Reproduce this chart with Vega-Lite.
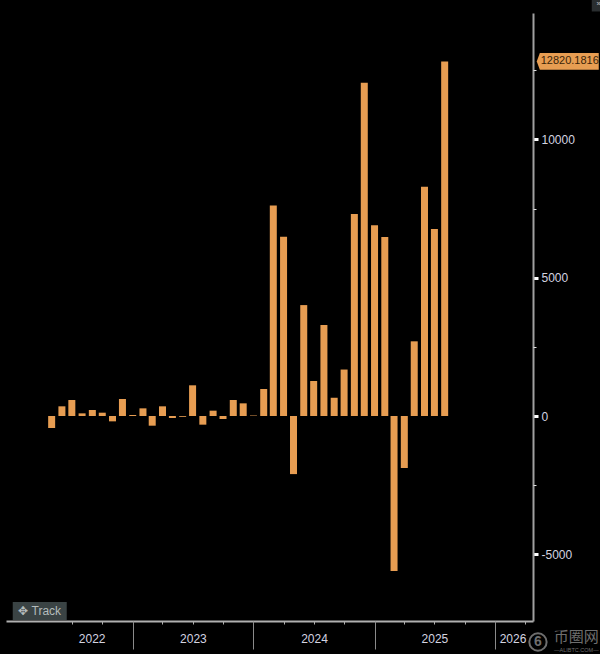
{
  "$schema": "https://vega.github.io/schema/vega-lite/v6.json",
  "width": 527,
  "height": 608,
  "padding": {"left": 6, "top": 13, "right": 67, "bottom": 33},
  "autosize": "none",
  "background": "#000000",
  "view": {"stroke": null},
  "config": {"font": "Liberation Sans"},
  "datasets": {
    "flows": [
      {"month": "2022-05-01", "value": -434},
      {"month": "2022-06-01", "value": 350},
      {"month": "2022-07-01", "value": 578},
      {"month": "2022-08-01", "value": 96},
      {"month": "2022-09-01", "value": 217},
      {"month": "2022-10-01", "value": 120},
      {"month": "2022-11-01", "value": -193},
      {"month": "2022-12-01", "value": 615},
      {"month": "2023-01-01", "value": 36},
      {"month": "2023-02-01", "value": 277},
      {"month": "2023-03-01", "value": -350},
      {"month": "2023-04-01", "value": 350},
      {"month": "2023-05-01", "value": -72},
      {"month": "2023-06-01", "value": -30},
      {"month": "2023-07-01", "value": 1110},
      {"month": "2023-08-01", "value": -313},
      {"month": "2023-09-01", "value": 193},
      {"month": "2023-10-01", "value": -108},
      {"month": "2023-11-01", "value": 578},
      {"month": "2023-12-01", "value": 458},
      {"month": "2024-01-01", "value": 18},
      {"month": "2024-02-01", "value": 976},
      {"month": "2024-03-01", "value": 7610},
      {"month": "2024-04-01", "value": 6480},
      {"month": "2024-05-01", "value": -2100},
      {"month": "2024-06-01", "value": 4010},
      {"month": "2024-07-01", "value": 1265},
      {"month": "2024-08-01", "value": 3290},
      {"month": "2024-09-01", "value": 660},
      {"month": "2024-10-01", "value": 1680},
      {"month": "2024-11-01", "value": 7300},
      {"month": "2024-12-01", "value": 12050},
      {"month": "2025-01-01", "value": 6900},
      {"month": "2025-02-01", "value": 6470},
      {"month": "2025-03-01", "value": -5600},
      {"month": "2025-04-01", "value": -1880},
      {"month": "2025-05-01", "value": 2700},
      {"month": "2025-06-01", "value": 8290},
      {"month": "2025-07-01", "value": 6760},
      {"month": "2025-08-01", "value": 12820.1816}
    ],
    "last": [{"month": "2026-08-08", "value": 12820.1816, "label": "12820.1816"}],
    "track": [{"month": "2022-03-26", "value": -7050, "label": "✥  Track"}],
    "corner": [{"month": "2026-11-10", "value": 14880, "label": "»"}],
    "mark1": [{"month": "2026-09-03", "value": -7990, "label": "币圈网"}],
    "mark2": [{"month": "2026-09-03", "value": -8470, "label": "—ALIBTC.COM—"}],
    "mark3": [{"month": "2026-05-10", "value": -8170, "label": "6"}]
  },
  "encoding": {
    "x": {"field": "month", "type": "temporal", "scale": {"domain": ["2021-12-14", "2026-04-25"], "nice": false, "padding": 0}, "title": null},
    "y": {"field": "value", "type": "quantitative", "scale": {"domain": [-7411, 14570], "nice": false}, "title": null}
  },
  "resolve": {"axis": {"x": "independent", "y": "independent"}},
  "layer": [
    {
      "data": {"name": "flows"},
      "mark": {"type": "bar", "width": 7, "color": "#E79D52"},
      "encoding": {
        "x": {
          "field": "month", "type": "temporal", "title": null,
          "axis": {
            "orient": "bottom", "values": [
              {"year": 2022, "month": 7, "date": 1}, {"year": 2022, "month": 10, "date": 1},
              {"year": 2023, "month": 1, "date": 1}, {"year": 2023, "month": 4, "date": 1}, {"year": 2023, "month": 7, "date": 1}, {"year": 2023, "month": 10, "date": 1},
              {"year": 2024, "month": 1, "date": 1}, {"year": 2024, "month": 4, "date": 1}, {"year": 2024, "month": 7, "date": 1}, {"year": 2024, "month": 10, "date": 1},
              {"year": 2025, "month": 1, "date": 1}, {"year": 2025, "month": 4, "date": 1}, {"year": 2025, "month": 7, "date": 1}, {"year": 2025, "month": 10, "date": 1},
              {"year": 2026, "month": 1, "date": 1}, {"year": 2026, "month": 4, "date": 1}
            ],
            "labels": false, "grid": false, "domainColor": "#b0b0b0", "domainWidth": 2, "tickColor": "#b0b0b0", "tickSize": 3, "tickWidth": 1
          }
        },
        "y": {
          "field": "value", "type": "quantitative", "title": null,
          "axis": {
            "orient": "right", "values": [-5000, 0, 5000, 10000], "grid": false,
            "domainColor": "#a0a0a0", "domainWidth": 2, "tickColor": "#ffffff", "tickSize": 5, "tickWidth": 3,
            "labelColor": "#d4d4e0", "labelFontSize": 12, "labelPadding": 3, "labelExpr": "'' + datum.value"
          }
        }
      }
    },
    {
      "data": {"name": "flows"},
      "mark": {"type": "bar", "width": 7, "opacity": 0},
      "encoding": {
        "x": {
          "field": "month", "type": "temporal", "title": null,
          "axis": {
            "orient": "bottom", "values": [
              {"year": 2023, "month": 1, "date": 1}, {"year": 2024, "month": 1, "date": 1}, {"year": 2025, "month": 1, "date": 1}, {"year": 2026, "month": 1, "date": 1}
            ],
            "labels": false, "grid": false, "domain": false, "tickColor": "#8a8a8a", "tickSize": 28, "tickWidth": 1
          }
        },
        "y": {
          "field": "value", "type": "quantitative", "title": null,
          "axis": {
            "orient": "right", "values": [-2500, 2500, 7500, 12500], "labels": false, "grid": false, "domain": false,
            "tickColor": "#e0e0e0", "tickSize": 3, "tickWidth": 1
          }
        }
      }
    },
    {
      "data": {"name": "flows"},
      "mark": {"type": "bar", "width": 7, "opacity": 0},
      "encoding": {
        "x": {
          "field": "month", "type": "temporal", "title": null,
          "axis": {
            "orient": "bottom", "values": [
              {"year": 2022, "month": 8, "date": 30}, {"year": 2023, "month": 7, "date": 2}, {"year": 2024, "month": 7, "date": 2}, {"year": 2025, "month": 7, "date": 1}, {"year": 2026, "month": 2, "date": 22}
            ],
            "format": "%Y", "domain": false, "ticks": false, "grid": false, "tickSize": 0,
            "labelColor": "#d4d4e0", "labelFontSize": 12, "labelPadding": 17, "labelBaseline": "middle", "labelFlush": false, "labelOverlap": false
          }
        },
        "y": {"field": "value", "type": "quantitative", "axis": null}
      }
    },
    {
      "data": {"name": "last"},
      "mark": {"type": "point", "filled": true, "color": "#E79D52", "opacity": 1, "size": 3844, "clip": false, "shape": "M-1,0 L-0.9,-0.27 L1,-0.27 L1,0.27 L-0.9,0.27 Z"},
      "encoding": {"y": {"field": "value", "type": "quantitative", "axis": null}, "x": {"field": "month", "type": "temporal", "axis": null}}
    },
    {
      "data": {"name": "last"},
      "mark": {"type": "text", "color": "#3a2408", "fontSize": 11, "align": "center", "baseline": "middle", "dx": 2, "clip": false},
      "encoding": {"text": {"field": "label"}, "y": {"field": "value", "type": "quantitative", "axis": null}, "x": {"field": "month", "type": "temporal", "axis": null}}
    },
    {
      "data": {"name": "track"},
      "mark": {"type": "point", "filled": true, "color": "#3a4344", "opacity": 1, "size": 2916, "clip": false, "shape": "M-1,-0.33 L1,-0.33 L1,0.33 L-1,0.33 Z"},
      "encoding": {"y": {"field": "value", "type": "quantitative", "axis": null}, "x": {"field": "month", "type": "temporal", "axis": null}}
    },
    {
      "data": {"name": "track"},
      "mark": {"type": "text", "color": "#b4bcbc", "fontSize": 12, "align": "center", "baseline": "middle", "clip": false},
      "encoding": {"text": {"field": "label"}, "y": {"field": "value", "type": "quantitative", "axis": null}, "x": {"field": "month", "type": "temporal", "axis": null}}
    },
    {
      "data": {"name": "corner"},
      "mark": {"type": "point", "filled": true, "color": "#2a2e30", "opacity": 1, "size": 200, "clip": false, "shape": "square"},
      "encoding": {"y": {"field": "value", "type": "quantitative", "axis": null}, "x": {"field": "month", "type": "temporal", "axis": null}}
    },
    {
      "data": {"name": "corner"},
      "mark": {"type": "text", "color": "#c8c8c8", "fontSize": 8, "align": "center", "baseline": "middle", "clip": false},
      "encoding": {"text": {"field": "label"}, "y": {"field": "value", "type": "quantitative", "axis": null}, "x": {"field": "month", "type": "temporal", "axis": null}}
    },
    {
      "data": {"name": "mark1"},
      "mark": {"type": "text", "color": "#6e6e6e", "fontSize": 15, "font": "Noto Sans CJK SC", "align": "center", "baseline": "middle", "clip": false},
      "encoding": {"text": {"field": "label"}, "y": {"field": "value", "type": "quantitative", "axis": null}, "x": {"field": "month", "type": "temporal", "axis": null}}
    },
    {
      "data": {"name": "mark2"},
      "mark": {"type": "text", "color": "#6e6e6e", "fontSize": 5.5, "align": "center", "baseline": "middle", "clip": false},
      "encoding": {"text": {"field": "label"}, "y": {"field": "value", "type": "quantitative", "axis": null}, "x": {"field": "month", "type": "temporal", "axis": null}}
    },
    {
      "data": {"name": "mark3"},
      "mark": {"type": "point", "filled": false, "color": "#6e6e6e", "opacity": 1, "size": 300, "strokeWidth": 2, "shape": "circle", "clip": false},
      "encoding": {"y": {"field": "value", "type": "quantitative", "axis": null}, "x": {"field": "month", "type": "temporal", "axis": null}}
    },
    {
      "data": {"name": "mark3"},
      "mark": {"type": "text", "color": "#6e6e6e", "fontSize": 14, "fontWeight": "bold", "align": "center", "baseline": "middle", "clip": false},
      "encoding": {"text": {"field": "label"}, "y": {"field": "value", "type": "quantitative", "axis": null}, "x": {"field": "month", "type": "temporal", "axis": null}}
    }
  ]
}
